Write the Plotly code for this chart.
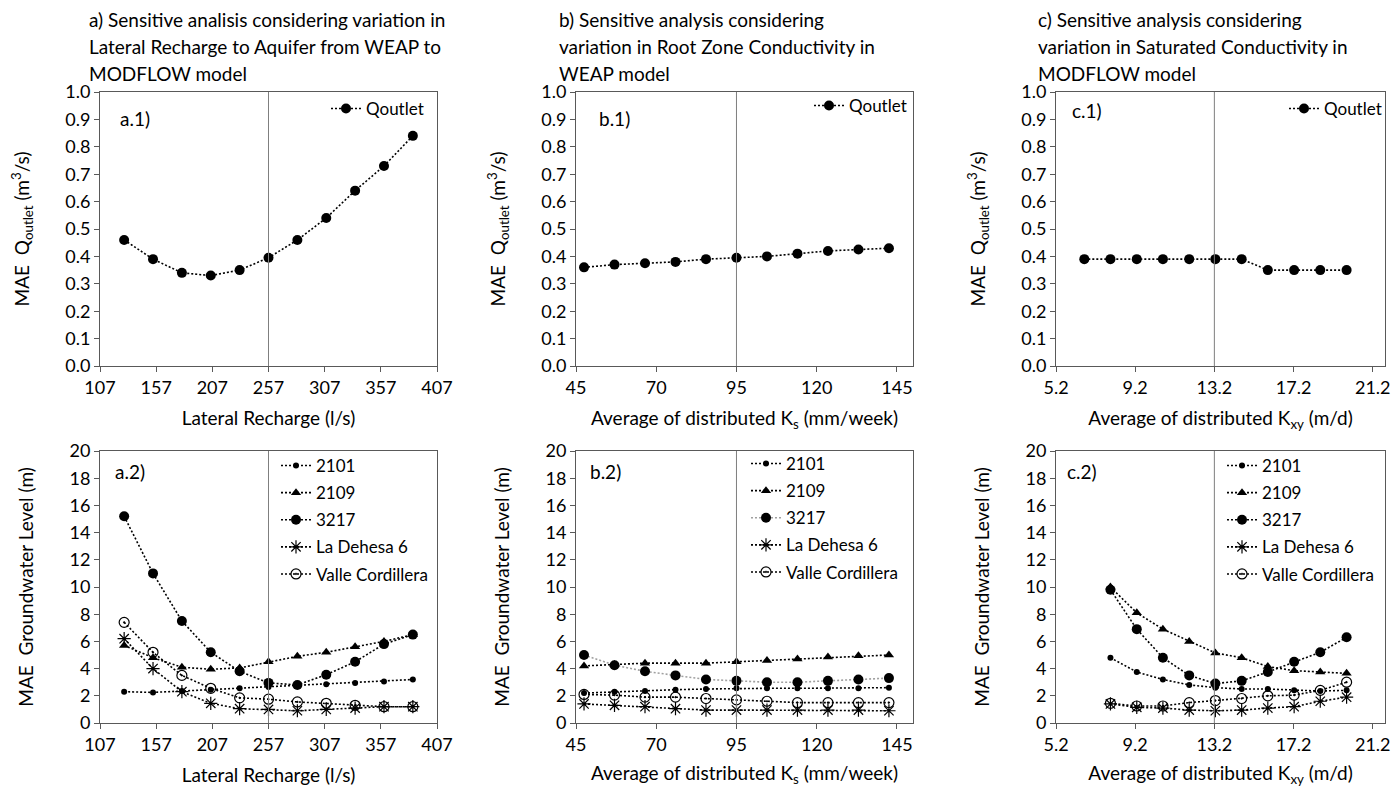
import plotly.graph_objects as go

FONT = "Lato"
W, H = 1393, 787

# ---------------- data ----------------
# x values (parameter scaled 0.5 .. 1.5 of the calibrated value)
recharge = [128.5, 154.2, 179.9, 205.6, 231.3, 257.0, 282.7, 308.4, 334.1, 359.8, 385.5]
ks = [47.5, 57.0, 66.5, 76.0, 85.5, 95.0, 104.5, 114.0, 123.5, 133.0, 142.5]
kxy = [6.63, 7.95, 9.28, 10.6, 11.93, 13.25, 14.58, 15.9, 17.23, 18.55, 19.88]
kxy_gw = [7.95, 9.28, 10.6, 11.93, 13.25, 14.58, 15.9, 17.23, 18.55, 19.88]

# x tick labels
ticks_recharge = [107, 157, 207, 257, 307, 357, 407]
ticks_ks = [45, 70, 95, 120, 145]
ticks_kxy = [5.2, 9.2, 13.2, 17.2, 21.2]

# MAE of outlet discharge (m3/s)
q_recharge = [0.46, 0.39, 0.34, 0.33, 0.35, 0.395, 0.46, 0.54, 0.64, 0.73, 0.84]
q_ks = [0.36, 0.37, 0.375, 0.38, 0.39, 0.395, 0.40, 0.41, 0.42, 0.425, 0.43]
q_kxy = [0.39, 0.39, 0.39, 0.39, 0.39, 0.39, 0.39, 0.35, 0.35, 0.35, 0.35]

wells = ["2101", "2109", "3217", "La Dehesa 6", "Valle Cordillera"]

# MAE of groundwater level (m) - lateral recharge
rech_2101 = [2.3, 2.25, 2.35, 2.45, 2.55, 2.65, 2.75, 2.85, 2.95, 3.05, 3.2]
rech_2109 = [5.7, 4.8, 4.1, 3.95, 4.05, 4.5, 4.9, 5.2, 5.6, 6.0, 6.5]
rech_3217 = [15.2, 11.0, 7.5, 5.2, 3.8, 2.95, 2.8, 3.55, 4.5, 5.8, 6.5]
rech_dehesa = [6.2, 4.0, 2.3, 1.45, 1.05, 1.0, 0.9, 1.0, 1.1, 1.2, 1.2]
rech_valle = [7.4, 5.2, 3.5, 2.55, 1.85, 1.75, 1.55, 1.45, 1.3, 1.2, 1.2]

# MAE of groundwater level (m) - root zone conductivity
ks_2101 = [2.2, 2.3, 2.35, 2.45, 2.5, 2.55, 2.55, 2.55, 2.55, 2.55, 2.6]
ks_2109 = [4.2, 4.3, 4.4, 4.4, 4.4, 4.5, 4.6, 4.7, 4.85, 4.95, 5.0]
ks_3217 = [5.0, 4.25, 3.8, 3.5, 3.2, 3.1, 3.0, 3.0, 3.1, 3.2, 3.3]
ks_dehesa = [1.4, 1.3, 1.2, 1.05, 0.95, 0.95, 0.95, 0.95, 0.95, 0.95, 0.9]
ks_valle = [2.1, 2.05, 1.9, 1.9, 1.8, 1.7, 1.6, 1.5, 1.5, 1.5, 1.5]

# MAE of groundwater level (m) - saturated conductivity
kxy_2101 = [4.8, 3.75, 3.2, 2.8, 2.6, 2.5, 2.5, 2.4, 2.35, 2.4]
kxy_2109 = [10.0, 8.1, 6.9, 6.0, 5.15, 4.8, 4.15, 3.85, 3.75, 3.65]
kxy_3217 = [9.8, 6.9, 4.8, 3.5, 2.9, 3.1, 3.75, 4.5, 5.2, 6.3]
kxy_dehesa = [1.4, 1.15, 1.1, 0.95, 0.9, 0.95, 1.1, 1.2, 1.6, 1.9]
kxy_valle = [1.45, 1.25, 1.25, 1.5, 1.65, 1.8, 2.0, 2.05, 2.4, 3.0]

x_ranges = [[107, 407], [45, 150], [5.2, 21.82]]
baselines = [257, 95, 13.2]

# ---------------- styling ----------------
FRAME = "#595959"
DOTS = "2px,2px"
marker_styles = {
    "Qoutlet": dict(symbol="circle", size=10, color="black"),
    "2101": dict(symbol="circle", size=6, color="black"),
    "2109": dict(symbol="triangle-up", size=9, color="black"),
    "3217": dict(symbol="circle", size=10, color="black"),
    "La Dehesa 6": dict(symbol="asterisk-open", size=11, color="black",
                        line=dict(color="black", width=1.2)),
    "Valle Cordillera": dict(symbol="circle-open-dot", size=10, color="black",
                             line=dict(color="black", width=1.2)),
}

x_dom = [(100 / W, 437 / W), (576 / W, 913 / W), (1056 / W, 1385 / W)]
y_dom_top = (1 - 366 / H, 1 - 92 / H)
y_dom_bot = (1 - 723 / H, 1 - 451 / H)

fig = go.Figure()


def add_series(x, y, name, axis_n, legend_id, line_color="black"):
    fig.add_trace(go.Scatter(
        x=x, y=y, name=name, mode="lines+markers",
        line=dict(color=line_color, width=1.6, dash=DOTS),
        marker=marker_styles[name],
        xaxis="x" if axis_n == 1 else f"x{axis_n}",
        yaxis="y" if axis_n == 1 else f"y{axis_n}",
        legend=legend_id, legendgroup=f"{legend_id}-{name}",
    ))


# top row: outlet discharge
add_series(recharge, q_recharge, "Qoutlet", 1, "legend")
add_series(ks, q_ks, "Qoutlet", 2, "legend2")
add_series(kxy, q_kxy, "Qoutlet", 3, "legend3")

# bottom row: groundwater levels
for name, ys in zip(wells, [rech_2101, rech_2109, rech_3217, rech_dehesa, rech_valle]):
    add_series(recharge, ys, name, 4, "legend4")
for name, ys in zip(wells, [ks_2101, ks_2109, ks_3217, ks_dehesa, ks_valle]):
    add_series(ks, ys, name, 5, "legend5",
               line_color="#a0a0a0" if name == "3217" else "black")
for name, ys in zip(wells, [kxy_2101, kxy_2109, kxy_3217, kxy_dehesa, kxy_valle]):
    add_series(kxy_gw, ys, name, 6, "legend6")

x_titles = [
    "Lateral Recharge (l/s)",
    "Average of distributed K<sub>s</sub> (mm/week)",
    "Average of distributed K<sub>xy</sub> (m/d)",
]
x_tickvals = [ticks_recharge, ticks_ks, ticks_kxy]
x_formats = ["d", "d", ".1f"]

axis_common = dict(
    showline=True, linecolor=FRAME, linewidth=1, mirror=True,
    ticks="outside", ticklen=5, tickcolor=FRAME, tickwidth=1,
    showgrid=False, zeroline=False, automargin=False,
    tickfont=dict(family=FONT, size=18, color="black"),
)

layout = {}
for row in range(2):
    for col in range(3):
        n = row * 3 + col + 1
        xk = "xaxis" if n == 1 else f"xaxis{n}"
        yk = "yaxis" if n == 1 else f"yaxis{n}"
        layout[xk] = dict(
            axis_common, domain=x_dom[col], range=x_ranges[col],
            tickmode="array", tickvals=x_tickvals[col], tickformat=x_formats[col],
            anchor="y" if n == 1 else f"y{n}",
            title=dict(text=x_titles[col], standoff=15,
                       font=dict(family=FONT, size=19, color="black")),
        )
        if row == 0:
            layout[yk] = dict(
                axis_common, domain=y_dom_top, range=[0, 1], dtick=0.1,
                tickformat=".1f", anchor="x" if n == 1 else f"x{n}",
                title=dict(text="MAE  Q<sub>outlet</sub> (m<sup>3</sup>/s)", standoff=30,
                           font=dict(family=FONT, size=19, color="black")),
            )
        else:
            layout[yk] = dict(
                axis_common, domain=y_dom_bot, range=[0, 20], dtick=2,
                anchor=f"x{n}",
                title=dict(text="MAE  Groundwater Level (m)", standoff=30,
                           font=dict(family=FONT, size=19, color="black")),
            )

# legends
legend_pos = {
    "legend": (326, 91), "legend2": (809, 88), "legend3": (1284, 91),
    "legend4": (276, 448), "legend5": (746, 446), "legend6": (1222, 448),
}
for key, (px, py) in legend_pos.items():
    layout[key] = dict(
        x=px / W, y=1 - py / H, xanchor="left", yanchor="top",
        bgcolor="rgba(0,0,0,0)", borderwidth=0, tracegroupgap=2,
        font=dict(family=FONT, size=17, color="black"),
        itemclick=False, itemdoubleclick=False,
    )

# baseline markers
shapes = []
for i, xb in enumerate(baselines):
    for n in (i + 1, i + 4):
        shapes.append(dict(
            type="line", xref="x" if n == 1 else f"x{n}",
            yref=("y" if n == 1 else f"y{n}") + " domain",
            x0=xb, x1=xb, y0=0, y1=1, line=dict(color="#7f7f7f", width=1),
        ))

# panel tags and headings
annotations = []
tags = [("a.1)", 1, 0.053, 0.905), ("b.1)", 2, 0.062, 0.904), ("c.1)", 3, 0.043, 0.934),
        ("a.2)", 4, 0.04, 0.923), ("b.2)", 5, 0.036, 0.926), ("c.2)", 6, 0.027, 0.926)]
for text, n, xd, yd in tags:
    annotations.append(dict(
        text=text, xref=("x" if n == 1 else f"x{n}") + " domain",
        yref=("y" if n == 1 else f"y{n}") + " domain",
        x=xd, y=yd, xanchor="left", yanchor="middle", showarrow=False,
        font=dict(family=FONT, size=19, color="black"),
    ))

headings = [
    (87, ["a) Sensitive analisis considering variation in",
          "Lateral Recharge to Aquifer from WEAP to",
          "MODFLOW model"]),
    (557, ["b) Sensitive analysis considering",
           "variation in Root Zone Conductivity in",
           "WEAP model"]),
    (1036, ["c) Sensitive analysis considering",
            "variation in Saturated Conductivity in",
            "MODFLOW model"]),
]
for px, lines in headings:
    for k, line in enumerate(lines):
        annotations.append(dict(
            text=line, xref="paper", yref="paper", x=px / W, y=1 - (20 + 26.5 * k) / H,
            xanchor="left", yanchor="middle", showarrow=False,
            font=dict(family=FONT, size=19, color="black"),
        ))

fig.update_layout(
    **layout,
    shapes=shapes, annotations=annotations,
    width=W, height=H, margin=dict(l=0, r=0, t=0, b=0, autoexpand=False),
    paper_bgcolor="white", plot_bgcolor="white",
    font=dict(family=FONT, color="black"),
    showlegend=True,
)

fig.write_html("out.html")
